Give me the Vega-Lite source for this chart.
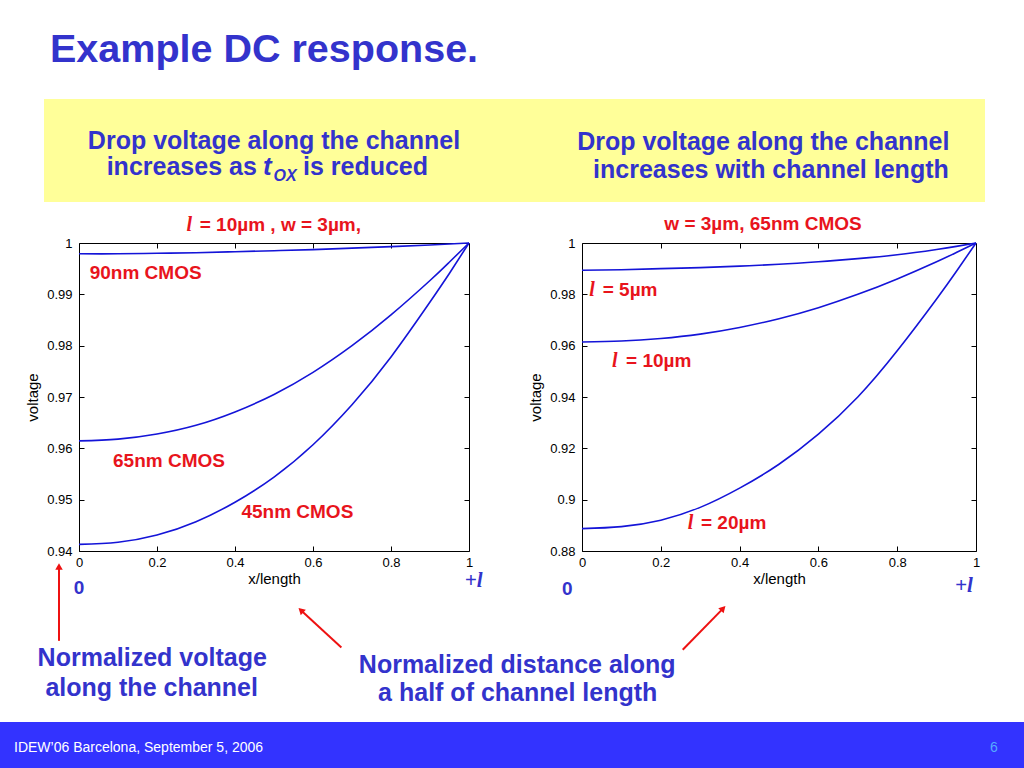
{
  "$schema": "https://vega.github.io/schema/vega-lite/v6.json",
  "background": "#ffffff",
  "padding": {"left": 0, "top": 29, "right": 0, "bottom": 0},
  "autosize": {"type": "pad"},
  "bounds": "flush",
  "spacing": 0,
  "title": {
    "text": "Example DC response.",
    "anchor": "start",
    "frame": "group",
    "offset": 29,
    "dx": 50,
    "font": "Liberation Sans",
    "fontSize": 39.5,
    "fontWeight": "bold",
    "color": "#3333cc"
  },
  "config": {
    "font": "Liberation Sans",
    "view": {"stroke": null},
    "axis": {
      "domain": false,
      "grid": false,
      "tickSize": -5,
      "tickColor": "#000000",
      "tickWidth": 1,
      "labelFont": "Liberation Sans",
      "labelFontSize": 13,
      "labelColor": "#000000",
      "labelFlush": false,
      "labelOverlap": false,
      "titleFont": "Liberation Sans",
      "titleFontSize": 15,
      "titleFontWeight": "normal",
      "titleColor": "#000000"
    },
    "axisX": {"labelPadding": 10, "titlePadding": 2},
    "axisY": {"labelPadding": 12, "titlePadding": 6}
  },
  "datasets": {
    "header": [
      {"role": "center", "x": 0.2444, "y": 0.5117, "text": "Drop voltage along the channel"},
      {"role": "left", "x": 0.0666, "y": 0.2592, "text": "increases as"},
      {"role": "symbol", "x": 0.2327, "y": 0.2592, "text": "t"},
      {"role": "subscript", "x": 0.2439, "y": 0.2010, "text": "OX"},
      {"role": "left", "x": 0.2752, "y": 0.2592, "text": "is reduced"},
      {"role": "center", "x": 0.7644, "y": 0.5019, "text": "Drop voltage along the channel"},
      {"role": "center", "x": 0.7725, "y": 0.2330, "text": "increases with channel length"}
    ],
    "footer": [
      {"role": "credit", "x": 0.0137, "y": 0.348, "text": "IDEW’06 Barcelona, September 5, 2006"},
      {"role": "page", "x": 0.9707, "y": 0.348, "text": "6"}
    ],
    "left_curves": [
      {"series": "90nm", "x": 0.0, "v": 0.9979},
      {"series": "90nm", "x": 0.1, "v": 0.9979},
      {"series": "90nm", "x": 0.2, "v": 0.9980},
      {"series": "90nm", "x": 0.3, "v": 0.9981},
      {"series": "90nm", "x": 0.4, "v": 0.9983},
      {"series": "90nm", "x": 0.5, "v": 0.9985},
      {"series": "90nm", "x": 0.6, "v": 0.9987},
      {"series": "90nm", "x": 0.7, "v": 0.9990},
      {"series": "90nm", "x": 0.8, "v": 0.9993},
      {"series": "90nm", "x": 0.9, "v": 0.9996},
      {"series": "90nm", "x": 1.0, "v": 1.0},
      {"series": "65nm", "x": 0.0, "v": 0.96145},
      {"series": "65nm", "x": 0.1, "v": 0.9618},
      {"series": "65nm", "x": 0.2, "v": 0.9628},
      {"series": "65nm", "x": 0.3, "v": 0.9645},
      {"series": "65nm", "x": 0.4, "v": 0.9671},
      {"series": "65nm", "x": 0.5, "v": 0.9705},
      {"series": "65nm", "x": 0.6, "v": 0.9748},
      {"series": "65nm", "x": 0.7, "v": 0.9800},
      {"series": "65nm", "x": 0.8, "v": 0.9860},
      {"series": "65nm", "x": 0.9, "v": 0.9927},
      {"series": "65nm", "x": 0.95, "v": 0.9963},
      {"series": "65nm", "x": 1.0, "v": 1.0},
      {"series": "45nm", "x": 0.0, "v": 0.9413},
      {"series": "45nm", "x": 0.1, "v": 0.9417},
      {"series": "45nm", "x": 0.2, "v": 0.9431},
      {"series": "45nm", "x": 0.3, "v": 0.9457},
      {"series": "45nm", "x": 0.4, "v": 0.9495},
      {"series": "45nm", "x": 0.5, "v": 0.9544},
      {"series": "45nm", "x": 0.6, "v": 0.9607},
      {"series": "45nm", "x": 0.7, "v": 0.9685},
      {"series": "45nm", "x": 0.8, "v": 0.9778},
      {"series": "45nm", "x": 0.9, "v": 0.9885},
      {"series": "45nm", "x": 0.95, "v": 0.9941},
      {"series": "45nm", "x": 1.0, "v": 1.0}
    ],
    "right_curves": [
      {"series": "5um", "x": 0.0, "v": 0.9894},
      {"series": "5um", "x": 0.1, "v": 0.9896},
      {"series": "5um", "x": 0.2, "v": 0.9900},
      {"series": "5um", "x": 0.3, "v": 0.9904},
      {"series": "5um", "x": 0.4, "v": 0.9910},
      {"series": "5um", "x": 0.5, "v": 0.9917},
      {"series": "5um", "x": 0.6, "v": 0.9927},
      {"series": "5um", "x": 0.7, "v": 0.9939},
      {"series": "5um", "x": 0.8, "v": 0.9954},
      {"series": "5um", "x": 0.9, "v": 0.9975},
      {"series": "5um", "x": 0.95, "v": 0.9987},
      {"series": "5um", "x": 1.0, "v": 1.0},
      {"series": "10um", "x": 0.0, "v": 0.96145},
      {"series": "10um", "x": 0.1, "v": 0.9618},
      {"series": "10um", "x": 0.2, "v": 0.9628},
      {"series": "10um", "x": 0.3, "v": 0.9645},
      {"series": "10um", "x": 0.4, "v": 0.9671},
      {"series": "10um", "x": 0.5, "v": 0.9705},
      {"series": "10um", "x": 0.6, "v": 0.9748},
      {"series": "10um", "x": 0.7, "v": 0.9800},
      {"series": "10um", "x": 0.8, "v": 0.9860},
      {"series": "10um", "x": 0.9, "v": 0.9927},
      {"series": "10um", "x": 0.95, "v": 0.9963},
      {"series": "10um", "x": 1.0, "v": 1.0},
      {"series": "20um", "x": 0.0, "v": 0.8887},
      {"series": "20um", "x": 0.1, "v": 0.8895},
      {"series": "20um", "x": 0.2, "v": 0.8920},
      {"series": "20um", "x": 0.3, "v": 0.8970},
      {"series": "20um", "x": 0.4, "v": 0.9045},
      {"series": "20um", "x": 0.5, "v": 0.9138},
      {"series": "20um", "x": 0.6, "v": 0.9255},
      {"series": "20um", "x": 0.7, "v": 0.9400},
      {"series": "20um", "x": 0.8, "v": 0.9580},
      {"series": "20um", "x": 0.9, "v": 0.9782},
      {"series": "20um", "x": 0.95, "v": 0.9889},
      {"series": "20um", "x": 1.0, "v": 1.0}
    ],
    "left_notes": [
      {"role": "var", "x": 0.2754, "v": 1.00226, "text": "l"},
      {"role": "label", "x": 0.3095, "v": 1.00226, "text": "= 10µm , w = 3µm,"},
      {"role": "label", "x": 0.0274, "v": 0.99305, "text": "90nm CMOS"},
      {"role": "label", "x": 0.0872, "v": 0.95642, "text": "65nm CMOS"},
      {"role": "label", "x": 0.4164, "v": 0.94636, "text": "45nm CMOS"},
      {"role": "end", "x": 0.0, "v": 0.93158, "text": "0"},
      {"role": "endvar", "x": 0.989, "v": 0.93300, "text": "+l"},
      {"role": "note", "x": 0.1877, "v": 0.91763, "text": "Normalized voltage"},
      {"role": "note", "x": 0.1864, "v": 0.91167, "text": "along the channel"},
      {"role": "note", "x": 1.1236, "v": 0.91621, "text": "Normalized distance along"},
      {"role": "note", "x": 1.1249, "v": 0.91082, "text": "a half of channel length"}
    ],
    "right_notes": [
      {"role": "label", "x": 0.209, "v": 1.00504, "text": "w = 3µm, 65nm CMOS"},
      {"role": "var", "x": 0.0185, "v": 0.97933, "text": "l"},
      {"role": "label", "x": 0.0525, "v": 0.97933, "text": "= 5µm"},
      {"role": "var", "x": 0.0761, "v": 0.95153, "text": "l"},
      {"role": "label", "x": 0.1117, "v": 0.95153, "text": "= 10µm"},
      {"role": "var", "x": 0.2683, "v": 0.88845, "text": "l"},
      {"role": "label", "x": 0.3020, "v": 0.88845, "text": "= 20µm"},
      {"role": "end", "x": -0.0373, "v": 0.86286, "text": "0"},
      {"role": "endvar", "x": 0.9467, "v": 0.86418, "text": "+l"}
    ],
    "left_arrows": [
      {"id": "a1", "x": -0.0513, "v": 0.9225, "x2": -0.0513, "v2": 0.9370},
      {"id": "a2", "x": 0.6728, "v": 0.92121, "x2": 0.5690, "v2": 0.92846}
    ],
    "right_arrows": [
      {"id": "a3", "x": 0.2556, "v": 0.84154, "x2": 0.3584, "v2": 0.85763}
    ]
  },
  "vconcat": [
    {
      "bounds": "flush",
      "spacing": 0,
      "hconcat": [
        {"width": 44, "height": 10, "data": {"values": []}, "mark": "point"},
        {
          "width": 941,
          "height": 103,
          "view": {"fill": "#ffff99", "stroke": null},
          "data": {"name": "header"},
          "encoding": {
            "x": {"field": "x", "type": "quantitative", "scale": {"domain": [0, 1], "nice": false}, "axis": null},
            "y": {"field": "y", "type": "quantitative", "scale": {"domain": [0, 1], "nice": false}, "axis": null},
            "text": {"field": "text", "type": "nominal"}
          },
          "layer": [
            {"transform": [{"filter": "datum.role === 'center'"}], "mark": {"type": "text", "font": "Liberation Sans", "fontWeight": "bold", "fontSize": 25, "color": "#3333cc", "align": "center", "baseline": "alphabetic"}},
            {"transform": [{"filter": "datum.role === 'left'"}], "mark": {"type": "text", "font": "Liberation Sans", "fontWeight": "bold", "fontSize": 25, "color": "#3333cc", "align": "left", "baseline": "alphabetic"}},
            {"transform": [{"filter": "datum.role === 'symbol'"}], "mark": {"type": "text", "font": "Liberation Sans", "fontWeight": "bold", "fontStyle": "italic", "fontSize": 26, "color": "#3333cc", "align": "left", "baseline": "alphabetic"}},
            {"transform": [{"filter": "datum.role === 'subscript'"}], "mark": {"type": "text", "font": "Liberation Sans", "fontWeight": "bold", "fontStyle": "italic", "fontSize": 16, "color": "#3333cc", "align": "left", "baseline": "alphabetic"}}
          ]
        }
      ]
    },
    {"width": 1, "height": 144, "data": {"values": []}, "mark": "point"},
    {
      "bounds": "flush",
      "spacing": 0,
      "hconcat": [
        {"width": 79, "height": 10, "data": {"values": []}, "mark": "point"},
        {
          "bounds": "flush",
          "spacing": 113,
          "hconcat": [
            {
              "width": 390,
              "height": 308,
              "view": {"stroke": "#000000", "strokeWidth": 1},
              "resolve": {"axis": {"x": "independent", "y": "independent"}},
              "layer": [
                {
                  "data": {"name": "left_curves"},
                  "mark": {"type": "line", "color": "#1414d8", "strokeWidth": 1.6, "interpolate": "natural"},
                  "encoding": {
                    "x": {"field": "x", "type": "quantitative", "scale": {"domain": [0, 1], "nice": false, "zero": false}, "axis": {"orient": "bottom", "values": [0, 0.2, 0.4, 0.6, 0.8, 1], "format": "~g", "title": "x/length"}},
                    "y": {"field": "v", "type": "quantitative", "scale": {"domain": [0.94, 1], "nice": false, "zero": false}, "axis": {"orient": "left", "values": [0.94, 0.95, 0.96, 0.97, 0.98, 0.99, 1], "format": "~g", "title": "voltage"}},
                    "detail": {"field": "series", "type": "nominal"}
                  }
                },
                {
                  "data": {"name": "left_notes"},
                  "transform": [{"filter": "datum.role === 'label'"}],
                  "mark": {"type": "text", "font": "Liberation Sans", "fontWeight": "bold", "fontSize": 19, "color": "#e8141c", "align": "left", "baseline": "alphabetic"},
                  "encoding": {
                    "x": {"field": "x", "type": "quantitative", "scale": {"domain": [0, 1], "nice": false, "zero": false}, "axis": {"orient": "top", "values": [0.2, 0.4, 0.6, 0.8], "labels": false, "title": null}},
                    "y": {"field": "v", "type": "quantitative", "scale": {"domain": [0.94, 1], "nice": false, "zero": false}, "axis": {"orient": "right", "values": [0.95, 0.96, 0.97, 0.98, 0.99], "labels": false, "title": null}},
                    "text": {"field": "text", "type": "nominal"}
                  }
                },
                {
                  "data": {"name": "left_notes"},
                  "transform": [{"filter": "datum.role === 'var'"}],
                  "mark": {"type": "text", "font": "Liberation Serif", "fontWeight": "bold", "fontStyle": "italic", "fontSize": 20, "color": "#e8141c", "align": "left", "baseline": "alphabetic"},
                  "encoding": {
                    "x": {"field": "x", "type": "quantitative", "scale": {"domain": [0, 1], "nice": false, "zero": false}, "axis": null},
                    "y": {"field": "v", "type": "quantitative", "scale": {"domain": [0.94, 1], "nice": false, "zero": false}, "axis": null},
                    "text": {"field": "text", "type": "nominal"}
                  }
                },
                {
                  "data": {"name": "left_notes"},
                  "transform": [{"filter": "datum.role === 'end'"}],
                  "mark": {"type": "text", "font": "Liberation Sans", "fontWeight": "bold", "fontSize": 19, "color": "#3333cc", "align": "center", "baseline": "alphabetic"},
                  "encoding": {
                    "x": {"field": "x", "type": "quantitative", "scale": {"domain": [0, 1], "nice": false, "zero": false}, "axis": null},
                    "y": {"field": "v", "type": "quantitative", "scale": {"domain": [0.94, 1], "nice": false, "zero": false}, "axis": null},
                    "text": {"field": "text", "type": "nominal"}
                  }
                },
                {
                  "data": {"name": "left_notes"},
                  "transform": [{"filter": "datum.role === 'endvar'"}],
                  "mark": {"type": "text", "font": "Liberation Serif", "fontWeight": "bold", "fontStyle": "italic", "fontSize": 21, "color": "#3333cc", "align": "left", "baseline": "alphabetic"},
                  "encoding": {
                    "x": {"field": "x", "type": "quantitative", "scale": {"domain": [0, 1], "nice": false, "zero": false}, "axis": null},
                    "y": {"field": "v", "type": "quantitative", "scale": {"domain": [0.94, 1], "nice": false, "zero": false}, "axis": null},
                    "text": {"field": "text", "type": "nominal"}
                  }
                },
                {
                  "data": {"name": "left_notes"},
                  "transform": [{"filter": "datum.role === 'note'"}],
                  "mark": {"type": "text", "font": "Liberation Sans", "fontWeight": "bold", "fontSize": 25, "color": "#3333cc", "align": "center", "baseline": "alphabetic"},
                  "encoding": {
                    "x": {"field": "x", "type": "quantitative", "scale": {"domain": [0, 1], "nice": false, "zero": false}, "axis": null},
                    "y": {"field": "v", "type": "quantitative", "scale": {"domain": [0.94, 1], "nice": false, "zero": false}, "axis": null},
                    "text": {"field": "text", "type": "nominal"}
                  }
                },
                {
                  "data": {"name": "left_arrows"},
                  "mark": {"type": "rule", "color": "#ee1111", "strokeWidth": 2},
                  "encoding": {
                    "x": {"field": "x", "type": "quantitative", "scale": {"domain": [0, 1], "nice": false, "zero": false}, "axis": null},
                    "y": {"field": "v", "type": "quantitative", "scale": {"domain": [0.94, 1], "nice": false, "zero": false}, "axis": null},
                    "x2": {"field": "x2"},
                    "y2": {"field": "v2"}
                  }
                },
                {
                  "data": {"name": "left_arrows"},
                  "transform": [{"filter": "datum.id === 'a1'"}],
                  "mark": {"type": "point", "shape": "triangle-up", "filled": true, "size": 56, "angle": 0, "color": "#ee1111", "opacity": 1, "strokeWidth": 0},
                  "encoding": {
                    "x": {"field": "x2", "type": "quantitative", "scale": {"domain": [0, 1], "nice": false, "zero": false}, "axis": null},
                    "y": {"field": "v2", "type": "quantitative", "scale": {"domain": [0.94, 1], "nice": false, "zero": false}, "axis": null}
                  }
                },
                {
                  "data": {"name": "left_arrows"},
                  "transform": [{"filter": "datum.id === 'a2'"}],
                  "mark": {"type": "point", "shape": "triangle-up", "filled": true, "size": 56, "angle": 313, "color": "#ee1111", "opacity": 1, "strokeWidth": 0},
                  "encoding": {
                    "x": {"field": "x2", "type": "quantitative", "scale": {"domain": [0, 1], "nice": false, "zero": false}, "axis": null},
                    "y": {"field": "v2", "type": "quantitative", "scale": {"domain": [0.94, 1], "nice": false, "zero": false}, "axis": null}
                  }
                }
              ]
            },
            {
              "width": 394,
              "height": 308,
              "view": {"stroke": "#000000", "strokeWidth": 1},
              "resolve": {"axis": {"x": "independent", "y": "independent"}},
              "layer": [
                {
                  "data": {"name": "right_curves"},
                  "mark": {"type": "line", "color": "#1414d8", "strokeWidth": 1.6, "interpolate": "natural"},
                  "encoding": {
                    "x": {"field": "x", "type": "quantitative", "scale": {"domain": [0, 1], "nice": false, "zero": false}, "axis": {"orient": "bottom", "values": [0, 0.2, 0.4, 0.6, 0.8, 1], "format": "~g", "title": "x/length"}},
                    "y": {"field": "v", "type": "quantitative", "scale": {"domain": [0.88, 1], "nice": false, "zero": false}, "axis": {"orient": "left", "values": [0.88, 0.9, 0.92, 0.94, 0.96, 0.98, 1], "format": "~g", "title": "voltage"}},
                    "detail": {"field": "series", "type": "nominal"}
                  }
                },
                {
                  "data": {"name": "right_notes"},
                  "transform": [{"filter": "datum.role === 'label'"}],
                  "mark": {"type": "text", "font": "Liberation Sans", "fontWeight": "bold", "fontSize": 19, "color": "#e8141c", "align": "left", "baseline": "alphabetic"},
                  "encoding": {
                    "x": {"field": "x", "type": "quantitative", "scale": {"domain": [0, 1], "nice": false, "zero": false}, "axis": {"orient": "top", "values": [0.2, 0.4, 0.6, 0.8], "labels": false, "title": null}},
                    "y": {"field": "v", "type": "quantitative", "scale": {"domain": [0.88, 1], "nice": false, "zero": false}, "axis": {"orient": "right", "values": [0.9, 0.92, 0.94, 0.96, 0.98], "labels": false, "title": null}},
                    "text": {"field": "text", "type": "nominal"}
                  }
                },
                {
                  "data": {"name": "right_notes"},
                  "transform": [{"filter": "datum.role === 'var'"}],
                  "mark": {"type": "text", "font": "Liberation Serif", "fontWeight": "bold", "fontStyle": "italic", "fontSize": 20, "color": "#e8141c", "align": "left", "baseline": "alphabetic"},
                  "encoding": {
                    "x": {"field": "x", "type": "quantitative", "scale": {"domain": [0, 1], "nice": false, "zero": false}, "axis": null},
                    "y": {"field": "v", "type": "quantitative", "scale": {"domain": [0.88, 1], "nice": false, "zero": false}, "axis": null},
                    "text": {"field": "text", "type": "nominal"}
                  }
                },
                {
                  "data": {"name": "right_notes"},
                  "transform": [{"filter": "datum.role === 'end'"}],
                  "mark": {"type": "text", "font": "Liberation Sans", "fontWeight": "bold", "fontSize": 19, "color": "#3333cc", "align": "center", "baseline": "alphabetic"},
                  "encoding": {
                    "x": {"field": "x", "type": "quantitative", "scale": {"domain": [0, 1], "nice": false, "zero": false}, "axis": null},
                    "y": {"field": "v", "type": "quantitative", "scale": {"domain": [0.88, 1], "nice": false, "zero": false}, "axis": null},
                    "text": {"field": "text", "type": "nominal"}
                  }
                },
                {
                  "data": {"name": "right_notes"},
                  "transform": [{"filter": "datum.role === 'endvar'"}],
                  "mark": {"type": "text", "font": "Liberation Serif", "fontWeight": "bold", "fontStyle": "italic", "fontSize": 21, "color": "#3333cc", "align": "left", "baseline": "alphabetic"},
                  "encoding": {
                    "x": {"field": "x", "type": "quantitative", "scale": {"domain": [0, 1], "nice": false, "zero": false}, "axis": null},
                    "y": {"field": "v", "type": "quantitative", "scale": {"domain": [0.88, 1], "nice": false, "zero": false}, "axis": null},
                    "text": {"field": "text", "type": "nominal"}
                  }
                },
                {
                  "data": {"name": "right_arrows"},
                  "mark": {"type": "rule", "color": "#ee1111", "strokeWidth": 2},
                  "encoding": {
                    "x": {"field": "x", "type": "quantitative", "scale": {"domain": [0, 1], "nice": false, "zero": false}, "axis": null},
                    "y": {"field": "v", "type": "quantitative", "scale": {"domain": [0.88, 1], "nice": false, "zero": false}, "axis": null},
                    "x2": {"field": "x2"},
                    "y2": {"field": "v2"}
                  }
                },
                {
                  "data": {"name": "right_arrows"},
                  "mark": {"type": "point", "shape": "triangle-up", "filled": true, "size": 56, "angle": 44, "color": "#ee1111", "opacity": 1, "strokeWidth": 0},
                  "encoding": {
                    "x": {"field": "x2", "type": "quantitative", "scale": {"domain": [0, 1], "nice": false, "zero": false}, "axis": null},
                    "y": {"field": "v2", "type": "quantitative", "scale": {"domain": [0.88, 1], "nice": false, "zero": false}, "axis": null}
                  }
                }
              ]
            }
          ]
        }
      ]
    },
    {"width": 1, "height": 479, "data": {"values": []}, "mark": "point"},
    {
      "width": 1024,
      "height": 46,
      "view": {"fill": "#3333ff", "stroke": null},
      "data": {"name": "footer"},
      "encoding": {
        "x": {"field": "x", "type": "quantitative", "scale": {"domain": [0, 1], "nice": false}, "axis": null},
        "y": {"field": "y", "type": "quantitative", "scale": {"domain": [0, 1], "nice": false}, "axis": null},
        "text": {"field": "text", "type": "nominal"}
      },
      "layer": [
        {"transform": [{"filter": "datum.role === 'credit'"}], "mark": {"type": "text", "font": "Liberation Sans", "fontSize": 14, "color": "#ffffff", "align": "left", "baseline": "alphabetic"}},
        {"transform": [{"filter": "datum.role === 'page'"}], "mark": {"type": "text", "font": "Liberation Sans", "fontSize": 14, "color": "#55aaff", "align": "center", "baseline": "alphabetic"}}
      ]
    }
  ]
}
